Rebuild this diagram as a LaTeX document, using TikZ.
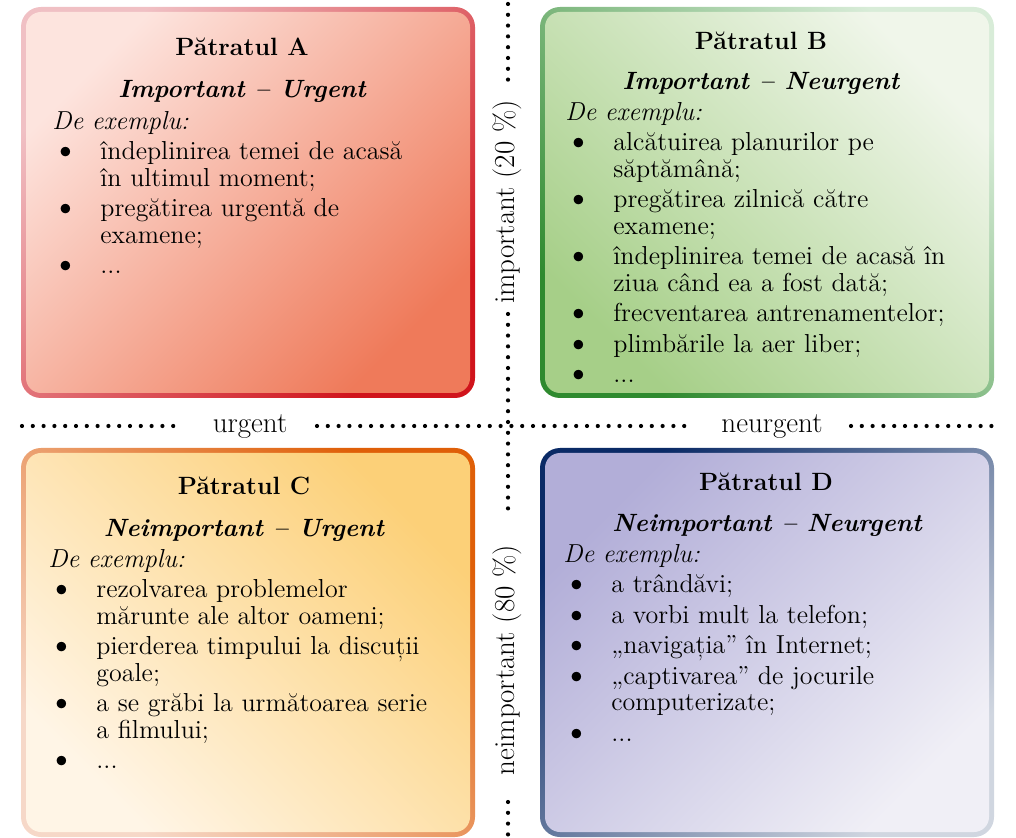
\documentclass[tikz,border=0pt]{standalone}
\usepackage{fontspec}
\setmainfont{Latin Modern Roman}
\newcommand{\bitem}[1]{\par\hangindent=24pt\hangafter=1\noindent\makebox[24pt][l]{\hspace{0.2pt}\raisebox{-0.3pt}{\scalebox{1.35}{\textbullet}}}#1\par}
\newcommand{\exlead}{\setlength{\parskip}{2pt}\noindent\textit{De exemplu:}\par}
\definecolor{aBo1}{HTML}{F0C0C4}\definecolor{aBo2}{HTML}{D0141C}
\definecolor{aFi1}{HTML}{FDE4DE}\definecolor{aFi2}{HTML}{EF7A5A}
\definecolor{bBo1}{HTML}{2F8A2F}\definecolor{bBo2}{HTML}{D8ECD8}
\definecolor{bFi1}{HTML}{A6CF88}\definecolor{bFi2}{HTML}{F0F6EA}
\definecolor{cBo1}{HTML}{F6D8C8}\definecolor{cBo2}{HTML}{DF5F08}
\definecolor{cFi1}{HTML}{FFF5E6}\definecolor{cFi2}{HTML}{FCD078}
\definecolor{dBo1}{HTML}{0A2A66}\definecolor{dBo2}{HTML}{D0D6E0}
\definecolor{dFi1}{HTML}{B2AED8}\definecolor{dFi2}{HTML}{F0EFF6}
\tikzset{
  dotline/.style={line width=2.1pt, dash pattern=on 0pt off 5.4pt, line cap=round},
  ttl/.style={font=\fontsize{12.5pt}{15pt}\selectfont\bfseries, anchor=base, inner sep=0pt},
  subttl/.style={font=\fontsize{12.5pt}{15pt}\selectfont\bfseries\itshape, anchor=base, inner sep=0pt},
  body/.style={font=\fontsize{13pt}{13.25pt}\selectfont, anchor=north west, inner sep=0pt, text width=200pt, align=left},
  axlbl/.style={font=\fontsize{14.5pt}{16pt}\selectfont, inner sep=0pt, anchor=base},
  outerbox/.style={rounded corners=10pt},
  innerbox/.style={rounded corners=7.5pt},
}
\begin{document}
\begin{tikzpicture}[x=0.5pt, y=-0.5pt]
\useasboundingbox (0,0) rectangle (1016,838);
% ---------- boxes ----------
% A
\path[outerbox, top color=aBo1, bottom color=aBo2, shading angle=45] (21,7) rectangle (475,398);
\path[innerbox, top color=aFi1, bottom color=aFi2, shading angle=45] (26,12) rectangle (470,393);
% B
\path[outerbox, top color=bBo2, bottom color=bBo1, shading angle=-45] (540,7) rectangle (994,398);
\path[innerbox, top color=bFi2, bottom color=bFi1, shading angle=-45] (545,12) rectangle (989,393);
% C
\path[outerbox, top color=cBo2, bottom color=cBo1, shading angle=-45] (21,448) rectangle (475,837);
\path[innerbox, top color=cFi2, bottom color=cFi1, shading angle=-45] (26,453) rectangle (470,832);
% D
\path[outerbox, top color=dBo1, bottom color=dBo2, shading angle=45] (540,448) rectangle (994,837);
\path[innerbox, top color=dFi1, bottom color=dFi2, shading angle=45] (545,453) rectangle (989,832);

% ---------- texts ----------
\node[ttl] (tA) at (242,56) {Pătratul A};
\node[subttl] (sA) at (242,98) {Important – Urgent};
\node[body] (bA) at (52,111) {\exlead
\bitem{îndeplinirea temei de acasă\newline în ultimul moment;}
\bitem{pregătirea urgentă de\newline examene;}
\bitem{...}};

\node[ttl] (tB) at (761,50) {Pătratul B};
\node[subttl] (sB) at (761,90) {Important – Neurgent};
\node[body] (bB) at (565,102) {\exlead
\bitem{alcătuirea planurilor pe\newline săptămână;}
\bitem{pregătirea zilnică către\newline examene;}
\bitem{îndeplinirea temei de acasă în\newline ziua când ea a fost dată;}
\bitem{frecventarea antrenamentelor;}
\bitem{plimbările la aer liber;}
\bitem{...}};

\node[ttl] (tC) at (244,495) {Pătratul C};
\node[subttl] (sC) at (244,537) {Neimportant – Urgent};
\node[body] (bC) at (48,549) {\exlead
\bitem{rezolvarea problemelor\newline mărunte ale altor oameni;}
\bitem{pierderea timpului la discuții\newline goale;}
\bitem{a se grăbi la următoarea serie\newline a filmului;}
\bitem{...}};

\node[ttl] (tD) at (766,491) {Pătratul D};
\node[subttl] (sD) at (767,532) {Neimportant – Neurgent};
\node[body] (bD) at (563,544) {\exlead
\bitem{a trândăvi;}
\bitem{a vorbi mult la telefon;}
\bitem{„navigația” în Internet;}
\bitem{„captivarea” de jocurile\newline computerizate;}
\bitem{...}};

% ---------- axes ----------
\node[axlbl] (lu) at (250,433) {urgent};
\node[axlbl] (ln) at (772,433) {neurgent};
\node[axlbl, rotate=90] (li) at (514,202) {important (20 \%)};
\node[axlbl, rotate=90] (lni) at (514,660) {neimportant (80 \%)};

\coordinate (h0) at (22,426);
\coordinate (h1) at (176,426);
\coordinate (h2) at (317,426);
\coordinate (h3) at (692,426);
\coordinate (h4) at (851,426);
\coordinate (h5) at (996,426);
\coordinate (v0) at (508,4);
\coordinate (v1) at (508,86);
\coordinate (v2) at (508,314);
\coordinate (v3) at (508,510);
\coordinate (v4) at (508,802);
\coordinate (v5) at (508,840);
\draw[dotline] (h0) -- (h1);
\draw[dotline] (h2) -- (h3);
\draw[dotline] (h4) -- (h5);
\draw[dotline] (v0) -- (v1);
\draw[dotline] (v2) -- (v3);
\draw[dotline] (v4) -- (v5);
\end{tikzpicture}
\end{document}
